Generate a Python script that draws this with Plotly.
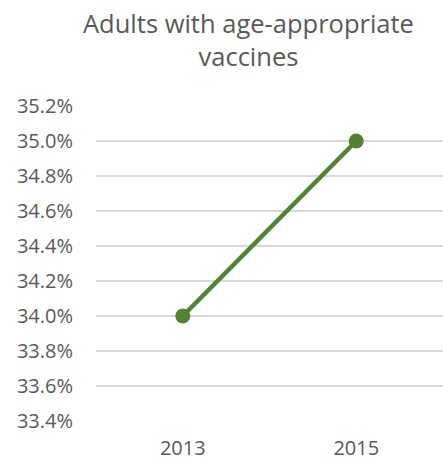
import plotly.graph_objects as go

# Survey years and share of adults with age-appropriate vaccines (%)
years = ["2013", "2015"]
share_pct = [34.0, 35.0]
y_ticks = [33.4, 33.6, 33.8, 34.0, 34.2, 34.4, 34.6, 34.8, 35.0, 35.2]

text_grey = "#595959"
grid_grey = "#d9d9d9"
green = "#548235"
font_family = "Open Sans"

fig = go.Figure(
    go.Scatter(
        x=years,
        y=share_pct,
        mode="lines+markers",
        line=dict(color=green, width=4.5),
        marker=dict(color=green, size=15),
        cliponaxis=False,
        hoverinfo="x+y",
    )
)

fig.update_layout(
    width=443,
    height=460,
    margin=dict(l=96, r=0, t=106, b=39),
    paper_bgcolor="white",
    plot_bgcolor="white",
    showlegend=False,
    font=dict(family=font_family, color=text_grey, size=20),
    annotations=[
        dict(
            text="Adults with age-appropriate<br>vaccines",
            xref="paper",
            yref="paper",
            x=0.44,
            y=1.325,
            xanchor="center",
            yanchor="top",
            showarrow=False,
            font=dict(family=font_family, size=25.5, color=text_grey),
        )
    ],
    xaxis=dict(
        type="category",
        range=[-0.5, 1.5],
        automargin=False,
        showgrid=False,
        showline=False,
        zeroline=False,
        ticks="",
        ticklabelstandoff=13,
        tickfont=dict(size=20, color=text_grey),
    ),
    yaxis=dict(
        range=[33.4, 35.2],
        automargin=False,
        tickvals=y_ticks,
        ticktext=[f"{v:.1f}%" for v in y_ticks],
        showgrid=True,
        gridcolor=grid_grey,
        gridwidth=1.5,
        showline=False,
        zeroline=False,
        ticks="",
        ticklabelstandoff=22,
        tickfont=dict(size=20, color=text_grey),
    ),
)

fig.write_html("out.html")
